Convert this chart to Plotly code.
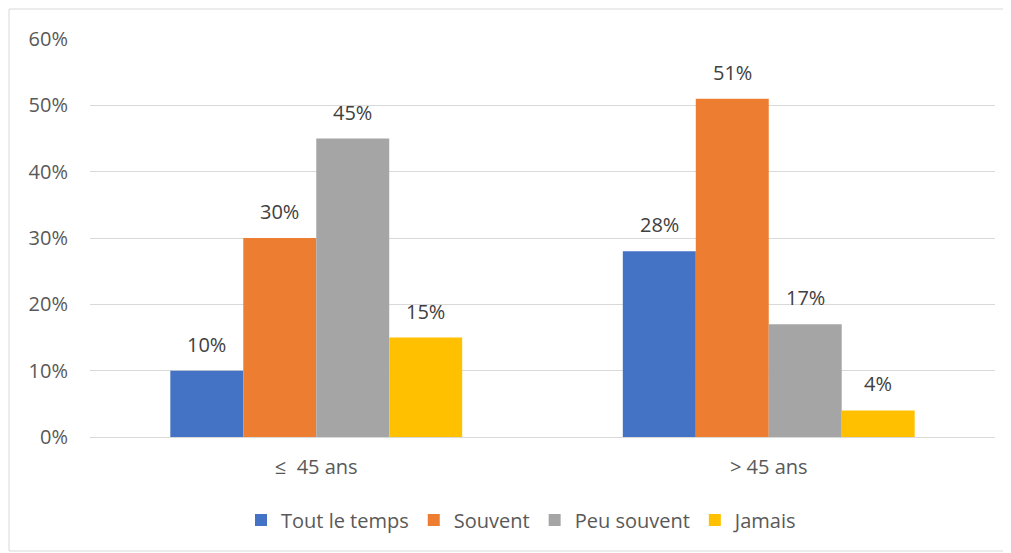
import plotly.graph_objects as go

categories = ["≤  45 ans", "> 45 ans"]
series_names = ["Tout le temps", "Souvent", "Peu souvent", "Jamais"]
tout_le_temps = [0.10, 0.28]
souvent = [0.30, 0.51]
peu_souvent = [0.45, 0.17]
jamais = [0.15, 0.04]
colors = ["#4472C4", "#ED7D31", "#A5A5A5", "#FFC000"]
y_ticks = [0, 0.1, 0.2, 0.3, 0.4, 0.5, 0.6]

values = [tout_le_temps, souvent, peu_souvent, jamais]
font = "Open Sans, Liberation Sans, sans-serif"
bargap = 0.355
n_series = len(series_names)
bar_w = (1 - bargap) / n_series

fig = go.Figure()
annotations = []
for si, (name, vals, col) in enumerate(zip(series_names, values, colors)):
    fig.add_trace(go.Bar(
        x=categories, y=vals, name=name, marker_color=col, marker_line_width=0,
    ))
    for ci, v in enumerate(vals):
        annotations.append(dict(
            x=ci + (si - (n_series - 1) / 2) * bar_w, y=v, xref="x", yref="y",
            text=f"{v*100:.0f}%", showarrow=False, yanchor="bottom", yshift=11,
            font=dict(size=20, color="#404040", family=font),
        ))

# page has an 8px body margin; figure is sized to fill the remaining window
W, H = 1003, 545
l, r, t, b = 82, 16, 31, 116
pw, ph = W - l - r, H - t - b

def px(x):
    return (x - 8 - l) / pw

def py(y):
    return (H - b - (y - 8)) / ph

fig.update_layout(
    width=W, height=H,
    margin=dict(l=l, r=r, t=t, b=b),
    paper_bgcolor="white", plot_bgcolor="white",
    barmode="group", bargap=bargap, bargroupgap=0,
    font=dict(family=font, color="#595959", size=20),
    showlegend=True,
    legend=dict(orientation="h", x=px(522), xanchor="center", y=py(520), yanchor="middle",
                font=dict(size=20, color="#595959"), itemwidth=30, traceorder="normal"),
    xaxis=dict(showgrid=False, showline=True, linecolor="#D9D9D9", linewidth=1,
               ticks="", tickfont=dict(size=20, color="#595959"), ticklabelstandoff=12),
    yaxis=dict(range=[0, 0.6], tickvals=y_ticks, tickformat=".0%", showgrid=True,
               gridcolor="#D9D9D9", gridwidth=1, zeroline=False, showline=False,
               tickfont=dict(size=20, color="#595959"), ticklabelstandoff=21),
    annotations=annotations,
    shapes=[dict(type="rect", xref="paper", yref="paper",
                 x0=px(9), x1=px(1008), y0=py(551), y1=py(9),
                 line=dict(color="#D9D9D9", width=1), fillcolor="rgba(0,0,0,0)", layer="below")],
)

fig.write_html("out.html")
